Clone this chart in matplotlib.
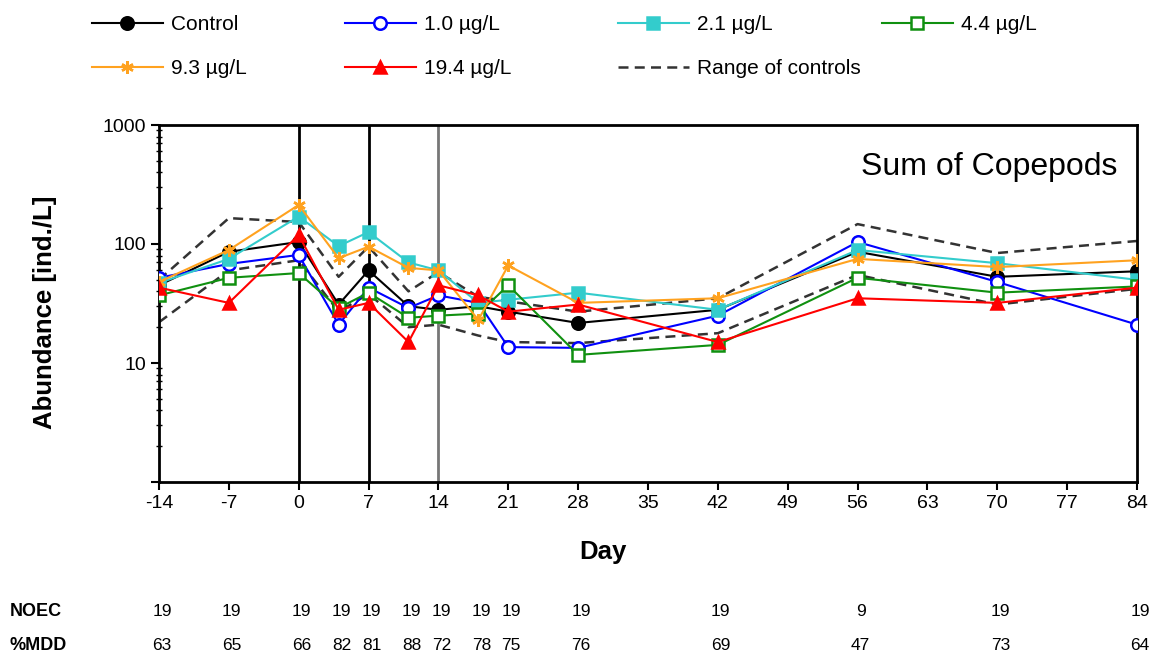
import matplotlib
matplotlib.use("Agg")
import matplotlib.pyplot as plt
from matplotlib.ticker import LogLocator, NullFormatter, FixedLocator

plt.rcParams["font.family"] = ["Liberation Sans", "DejaVu Sans"]

# sampling days
days = [-14, -7, 0, 4, 7, 11, 14, 18, 21, 28, 42, 56, 70, 84]

# abundance of copepods [ind./L] per treatment
control = [45, 86, 104, 31, 60, 30, 28, 30, 27, 21.7, 28, 86, 53, 59]
conc_1_0 = [52, 68, 81, 21, 43, 29, 37, 32, 13.6, 13.4, 25, 104, 48, 21]
conc_2_1 = [47, 75, 170, 96, 126, 70, 60, 32, 34, 39, 28, 89, 69, 50]
conc_4_4 = [37, 52, 57, 29, 39, 24, 25, 26, 45, 11.7, 14.2, 52, 39, 44]
conc_9_3 = [48, 89, 213, 76, 95, 63, 60, 23, 66, 32, 35, 75, 64, 73]
conc_19_4 = [43, 32, 119, 28, 32, 15, 45, 37, 27, 31, 15, 35, 32, 43]

# range of controls
range_upper = [50, 165, 153, 53, 95, 40, 58, 36, 33, 27, 35, 147, 84, 106]
range_lower = [22, 60, 73, 27, 38, 20, 21, 17, 15, 14.7, 17.8, 55, 31, 42]

# table below the chart
noec = [19, 19, 19, 19, 19, 19, 19, 19, 19, 19, 19, 9, 19, 19]
mdd = [63, 65, 66, 82, 81, 88, 72, 78, 75, 76, 69, 47, 73, 64]

x_ticks = list(range(-14, 85, 7))

fig = plt.figure(figsize=(11.49, 6.59), dpi=100)
ax = fig.add_axes([159 / 1149, 1 - 482 / 659, 978 / 1149, 357 / 659])

# treatment lines
series = [
    ("Control", control, dict(color="black", marker="o", mfc="black", mec="black")),
    ("1.0 µg/L", conc_1_0, dict(color="#0000FF", marker="o", mfc="white", mec="#0000FF")),
    ("2.1 µg/L", conc_2_1, dict(color="#33CCCC", marker="s", mfc="#33CCCC", mec="#33CCCC")),
    ("4.4 µg/L", conc_4_4, dict(color="#109010", marker="s", mfc="white", mec="#109010")),
    ("9.3 µg/L", conc_9_3, dict(color="#FFA21F", marker=(6, 2, 0), mfc="#FFA21F", mec="#FFA21F")),
    ("19.4 µg/L", conc_19_4, dict(color="#FF0000", marker="^", mfc="#FF0000", mec="#FF0000")),
]

handles = []
for label, values, style in series:
    line, = ax.plot(days, values, lw=1.5, ms=9, mew=1.8, label=label, zorder=3, **style)
    handles.append(line)

range_style = dict(color="#333333", lw=1.8, ls=(0, (4, 2.5)), zorder=2)
range_line, = ax.plot(days, range_upper, label="Range of controls", **range_style)
ax.plot(days, range_lower, **range_style)
handles.append(range_line)

# application / sampling markers
ax.axvline(0, color="black", lw=2, zorder=1)
ax.axvline(7, color="black", lw=2, zorder=1)
ax.axvline(14, color="#777777", lw=2, zorder=1)

ax.set_yscale("log")
ax.set_ylim(1, 1000)
ax.set_xlim(-14, 84)
ax.set_xticks(x_ticks)
ax.set_xticklabels([str(t) for t in x_ticks], fontsize=14)
ax.yaxis.set_major_locator(FixedLocator([1, 10, 100, 1000]))
ax.set_yticklabels(["", "10", "100", "1000"], fontsize=14)
ax.yaxis.set_minor_locator(LogLocator(base=10, subs=range(2, 10)))
ax.yaxis.set_minor_formatter(NullFormatter())
ax.tick_params(axis="both", which="major", direction="out", length=6, width=1.5, colors="black")
ax.tick_params(axis="y", which="minor", direction="inout", length=5, width=1)
for spine in ax.spines.values():
    spine.set_linewidth(2)
    spine.set_color("black")

ax.text(0.98, 0.882, "Sum of Copepods", transform=ax.transAxes, ha="right", va="center", fontsize=23)

fig.text(603 / 1149, 1 - 552 / 659, "Day", ha="center", va="center", fontsize=18.5, fontweight="bold")
fig.text(45 / 1149, 1 - 312 / 659, "Abundance [ind./L]", ha="center", va="center",
         rotation=90, fontsize=18.5, fontweight="bold")

# legend, one column per legend so spacing follows the original
columns = [
    (92, [handles[0], handles[4]]),
    (345, [handles[1], handles[5]]),
    (618, [handles[2], handles[6]]),
    (882, [handles[3]]),
]
for x_px, col_handles in columns:
    fig.legend(handles=col_handles, loc="upper left", bbox_to_anchor=(x_px / 1149, 1 - 15 / 659),
               frameon=False, fontsize=15, handlelength=3.4, handletextpad=0.4,
               labelspacing=1.2, borderpad=0, borderaxespad=0)

# NOEC / %MDD table
row_y = [1 - 612 / 659, 1 - 645 / 659]
fig.text(10 / 1149, row_y[0], "NOEC", ha="left", va="center", fontsize=13, fontweight="bold")
fig.text(10 / 1149, row_y[1], "%MDD", ha="left", va="center", fontsize=13, fontweight="bold")
trans = matplotlib.transforms.blended_transform_factory(ax.transData, fig.transFigure)
for d, n, m in zip(days, noec, mdd):
    ax.text(d + 0.3, row_y[0], str(n), transform=trans, ha="center", va="center", fontsize=12.5)
    ax.text(d + 0.3, row_y[1], str(m), transform=trans, ha="center", va="center", fontsize=12.5)

fig.savefig("out.png", dpi=100)
